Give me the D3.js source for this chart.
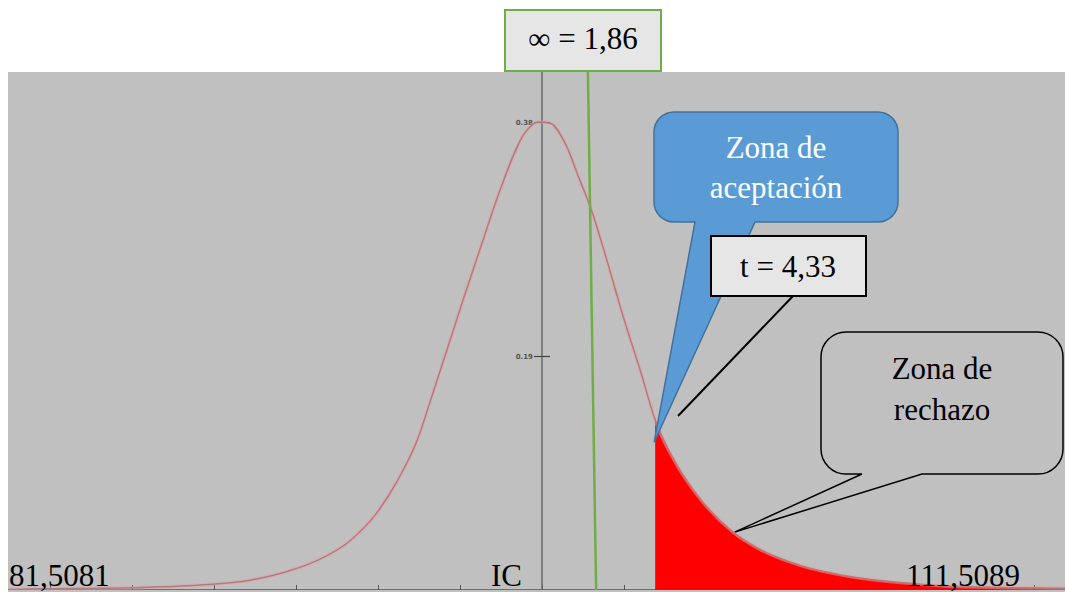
<!DOCTYPE html>
<html>
<head>
<meta charset="utf-8">
<script src="https://cdn.jsdelivr.net/npm/d3@7"></script>
<style>
  body { margin: 0; background: #fff; }
  svg { display: block; }
</style>
</head>
<body>
<div id="chart"></div>
<script>
// values: t value and density of the curve
var tValues = [-6.5, -6, -5, -4.17, -3.56, -3.16, -2.74, -2.34, -2.01, -1.77, -1.52, -1.33, -1.12, -0.96, -0.72, -0.51, -0.2, -0.05,
               0.1, 0.28, 0.46, 0.59, 0.79, 0.99, 1.2, 1.38, 1.65, 1.93, 2.33, 2.66, 3.15, 3.76, 4.37, 4.98, 5.59, 6.38, 6.6];
var density = [0.0005, 0.001, 0.0018, 0.004, 0.008, 0.014, 0.024, 0.040, 0.063, 0.088, 0.122, 0.160, 0.203, 0.236, 0.284, 0.325, 0.372, 0.38,
               0.379, 0.363, 0.333, 0.311, 0.268, 0.222, 0.178, 0.138, 0.101, 0.074, 0.047, 0.033, 0.020, 0.011, 0.006, 0.003, 0.002, 0.0015, 0.0015];
var xTicks = [-6, -5, -4, -3, -2, -1, 0, 1, 2, 3, 4, 5, 6];
var yTicks = [0.19, 0.38];
var tCrit = 1.38;       // start of the red zone
var alphaLine = [0.56, 0.66]; // green line, top and bottom
var leftLabel = "81,5081", midLabel = "IC", rightLabel = "111,5089";
var alphaText = "\u221E = 1,86", tText = "t = 4,33";
var accLines = ["Zona de", "aceptación"], rejLines = ["Zona de", "rechazo"];

var data = tValues.map(function(t, i) { return {t: t, d: density[i]}; });

var W = 1065, H = 592;
var plot = {left: 8, top: 72, right: 1065, bottom: 592};

var svg = d3.select("#chart").append("svg")
    .attr("width", W)
    .attr("height", H);

var x = d3.scaleLinear().domain([-6, 6]).range([50, 1034]);
var y = d3.scaleLinear().domain([0, 0.38]).range([590, 122]);

// grey plot background
svg.append("rect")
    .attr("x", plot.left).attr("y", plot.top)
    .attr("width", plot.right - plot.left).attr("height", plot.bottom - plot.top)
    .attr("fill", "#c0c0c0");

svg.append("clipPath").attr("id", "plotclip")
  .append("rect")
    .attr("x", plot.left).attr("y", plot.top)
    .attr("width", plot.right - plot.left).attr("height", 518);

var g = svg.append("g").attr("clip-path", "url(#plotclip)");

// bottom axis (ticks going up)
g.append("line")
    .attr("x1", plot.left).attr("x2", plot.right)
    .attr("y1", y(0)).attr("y2", y(0))
    .attr("stroke", "#555").attr("stroke-width", 1.5);
var xAxis = g.append("g")
    .attr("transform", "translate(0," + y(0) + ")")
    .call(d3.axisTop(x).tickValues(xTicks).tickSize(5).tickFormat(""));
xAxis.select(".domain").remove();
xAxis.selectAll(".tick line").attr("stroke", "#555");

// vertical axis at t = 0
g.append("line")
    .attr("x1", x(0)).attr("x2", x(0))
    .attr("y1", plot.top).attr("y2", y(0))
    .attr("stroke", "#6a6a6a").attr("stroke-width", 1.5);
var yAxis = g.append("g")
    .attr("transform", "translate(" + x(0) + ",0)")
    .call(d3.axisLeft(y).tickValues(yTicks).tickSize(8).tickPadding(1).tickFormat(d3.format(".2f")));
yAxis.select(".domain").remove();
yAxis.selectAll(".tick line").attr("x1", 8).attr("stroke", "#444").attr("stroke-width", 1.2);
yAxis.selectAll(".tick text")
    .attr("font-family", "DejaVu Sans")
    .attr("font-size", 7)
    .attr("font-weight", "bold")
    .attr("fill", "#555");

// red rejection area
var tail = data.filter(function(d) { return d.t >= tCrit; });
g.append("path")
    .datum(tail)
    .attr("fill", "#ff0000")
    .attr("d", d3.area()
      .x(function(d) { return x(d.t); })
      .y0(y(0))
      .y1(function(d) { return y(d.d); })
      .curve(d3.curveMonotoneX));

// density curve
var line = d3.line()
    .x(function(d) { return x(d.t); })
    .y(function(d) { return y(d.d); })
    .curve(d3.curveMonotoneX);
g.append("path")
    .datum(data)
    .attr("fill", "none")
    .attr("stroke", "#e8a0a0")
    .attr("stroke-opacity", 0.5)
    .attr("stroke-width", 3.5)
    .attr("d", line);
g.append("path")
    .datum(data)
    .attr("fill", "none")
    .attr("stroke", "#b57a7e")
    .attr("stroke-width", 1.5)
    .attr("d", line);

// green alpha line
svg.append("line")
    .attr("x1", x(alphaLine[0])).attr("y1", plot.top)
    .attr("x2", x(alphaLine[1])).attr("y2", y(0))
    .attr("stroke", "#70ad47").attr("stroke-width", 2.5);

var serif = "Liberation Serif, Times New Roman, serif";

// alpha box on top
svg.append("rect")
    .attr("x", 505).attr("y", 10).attr("width", 156).attr("height", 61)
    .attr("fill", "#e7e6e6").attr("stroke", "#70ad47").attr("stroke-width", 2);
svg.append("text")
    .attr("x", 583).attr("y", 49)
    .attr("text-anchor", "middle")
    .attr("font-family", serif).attr("font-size", 31)
    .text(alphaText);

// callout: rounded box with a pointer on its bottom edge
function callout(x0, y0, x1, y1, r, b0, b1, tx, ty) {
  var p = d3.path();
  p.moveTo(x0 + r, y0);
  p.lineTo(x1 - r, y0);
  p.arcTo(x1, y0, x1, y0 + r, r);
  p.lineTo(x1, y1 - r);
  p.arcTo(x1, y1, x1 - r, y1, r);
  p.lineTo(b1, y1);
  p.lineTo(tx, ty);
  p.lineTo(b0, y1);
  p.lineTo(x0 + r, y1);
  p.arcTo(x0, y1, x0, y1 - r, r);
  p.lineTo(x0, y0 + r);
  p.arcTo(x0, y0, x0 + r, y0, r);
  p.closePath();
  return p.toString();
}

// acceptance zone callout (blue)
svg.append("path")
    .attr("d", callout(654, 112, 898, 222, 20, 695, 755, x(tCrit) - 1, y(0.12)))
    .attr("fill", "#5b9bd5").attr("stroke", "#41719c").attr("stroke-width", 1.5);
svg.append("text")
    .attr("text-anchor", "middle")
    .attr("font-family", serif).attr("font-size", 31)
    .attr("fill", "#fff")
    .selectAll("tspan").data(accLines).enter().append("tspan")
    .attr("x", 776)
    .attr("y", function(d, i) { return 158 + i * 40; })
    .text(function(d) { return d; });

// t box
svg.append("rect")
    .attr("x", 711).attr("y", 236).attr("width", 155).attr("height", 60)
    .attr("fill", "#e7e6e6").attr("stroke", "#000").attr("stroke-width", 2);
svg.append("text")
    .attr("x", 788).attr("y", 277)
    .attr("text-anchor", "middle")
    .attr("font-family", serif).attr("font-size", 31)
    .text(tText);
svg.append("line")
    .attr("x1", 793).attr("y1", 296)
    .attr("x2", 678).attr("y2", 416)
    .attr("stroke", "#000").attr("stroke-width", 2);

// rejection zone callout
svg.append("path")
    .attr("d", callout(821, 332, 1063, 474, 25, 862, 922, x(2.35), y(0.047)))
    .attr("fill", "none").attr("stroke", "#000").attr("stroke-width", 1.5);
svg.append("text")
    .attr("text-anchor", "middle")
    .attr("font-family", serif).attr("font-size", 31)
    .attr("fill", "#000")
    .selectAll("tspan").data(rejLines).enter().append("tspan")
    .attr("x", 942)
    .attr("y", function(d, i) { return 379 + i * 41; })
    .text(function(d) { return d; });

// bottom labels
var bottomText = svg.append("g")
    .attr("font-family", serif).attr("font-size", 31).attr("fill", "#000");
bottomText.append("text").attr("x", 9).attr("y", 586).text(leftLabel);
bottomText.append("text").attr("x", 491).attr("y", 586).text(midLabel);
bottomText.append("text").attr("x", 1020).attr("y", 586).attr("text-anchor", "end").text(rightLabel);
</script>
</body>
</html>
